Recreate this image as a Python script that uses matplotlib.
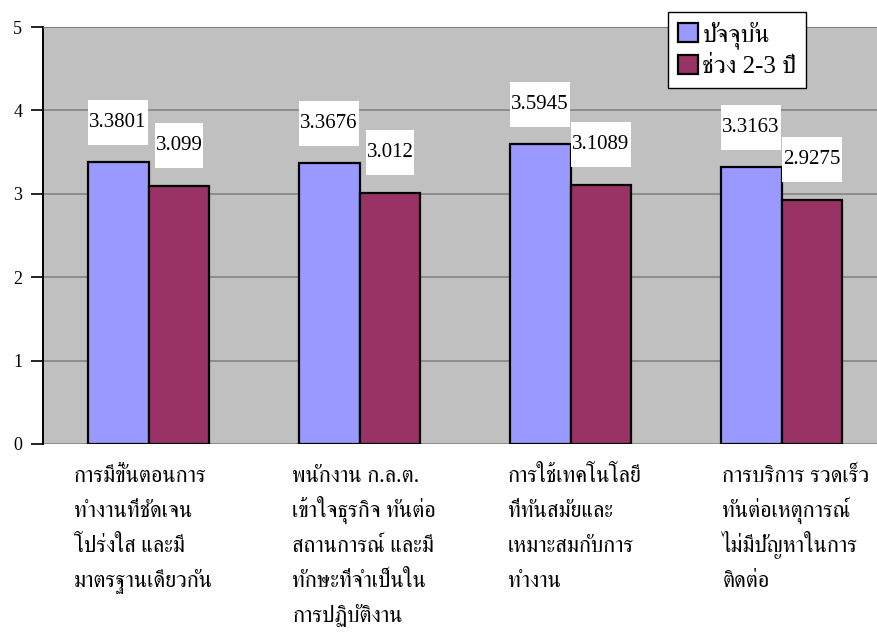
import matplotlib
matplotlib.use("Agg")
import matplotlib.pyplot as plt
import numpy as np
from matplotlib import font_manager
from matplotlib.ft2font import FT2Font
from matplotlib.patches import Patch, Rectangle
from matplotlib.transforms import IdentityTransform

categories = [
    "การมีขั้นตอนการ\nทำงานที่ชัดเจน\nโปร่งใส และมี\nมาตรฐานเดียวกัน",
    "พนักงาน ก.ล.ต.\nเข้าใจธุรกิจ ทันต่อ\nสถานการณ์ และมี\nทักษะที่จำเป็นใน\nการปฏิบัติงาน",
    "การใช้เทคโนโลยี\nที่ทันสมัยและ\nเหมาะสมกับการ\nทำงาน",
    "การบริการ รวดเร็ว\nทันต่อเหตุการณ์\nไม่มีปัญหาในการ\nติดต่อ",
]
current = [3.3801, 3.3676, 3.5945, 3.3163]
next_years = [3.099, 3.012, 3.1089, 2.9275]
current_labels = ["3.3801", "3.3676", "3.5945", "3.3163"]
next_labels = ["3.099", "3.012", "3.1089", "2.9275"]
series_names = ["ปัจจุบัน", "ช่วง 2-3 ปี"]


def thai_fonts():
    found = []
    for f in font_manager.fontManager.ttflist:
        try:
            ft = FT2Font(f.fname)
            if ft.get_char_index(0x0E01) and ft.get_char_index(0x0E33):
                if f.name not in found:
                    found.append(f.name)
        except Exception:
            pass
    return found


found = thai_fonts()
prefer = ["FreeSerif", "Norasi", "Kinnari", "Noto Serif Thai", "Loma"]
thai = next((p for p in prefer if p in found), found[0] if found else "DejaVu Sans")
plt.rcParams["font.family"] = ["Liberation Serif", thai, "DejaVu Sans"]

W, H = 877, 642
fig = plt.figure(figsize=(W / 100, H / 100), dpi=100)
ax = fig.add_axes([43 / W, (H - 444) / H, 844 / W, 417 / H])

blue, red = "#9999FF", "#993366"
x = np.arange(len(categories))
bw = 0.289
ax.bar(x - bw / 2, current, bw, color=blue, edgecolor="black", linewidth=1.6, zorder=3)
ax.bar(x + bw / 2, next_years, bw, color=red, edgecolor="black", linewidth=1.6, zorder=3)

ax.set_xlim(-0.5, 3.5)
ax.set_ylim(0, 5)
ax.set_facecolor("#C0C0C0")
ax.set_yticks(range(6))
ax.tick_params(axis="y", length=9, width=1.2, pad=6, labelsize=13)
ax.set_xticks([])
ax.grid(axis="y", color="#808080", linewidth=1.1, zorder=0)
ax.set_axisbelow(True)
for s in ["right", "bottom"]:
    ax.spines[s].set_visible(False)
ax.spines["top"].set_color("#808080")
ax.spines["left"].set_linewidth(1.4)

texts = []
for xs, vals, labs in [(x - bw / 2, current, current_labels), (x + bw / 2, next_years, next_labels)]:
    for xi, v, lab in zip(xs, vals, labs):
        t = ax.annotate(lab, (xi, v), xytext=(0, 28.8), textcoords="offset points",
                        ha="center", va="center", fontsize=15, zorder=6)
        texts.append(t)

# category labels: one text per line so the line pitch stays even
label_shift = [-0.353, -0.318, -0.296, -0.28]
for i, lab in enumerate(categories):
    for j, line in enumerate(lab.split("\n")):
        ax.annotate(line, (i + label_shift[i], 0), xytext=(0, -27.5 - 25.2 * j),
                    textcoords="offset points", ha="left", va="baseline",
                    fontsize=16, annotation_clip=False)

fig.legend(handles=[Patch(facecolor=blue, edgecolor="black", linewidth=1.6, label=series_names[0]),
                    Patch(facecolor=red, edgecolor="black", linewidth=1.6, label=series_names[1])],
           loc="upper left", bbox_to_anchor=(668 / W, 1 - 12 / H), fancybox=False,
           edgecolor="black", framealpha=1, fontsize=18, handlelength=0.8, handleheight=0.8,
           handletextpad=0.2, labelspacing=0.22, borderpad=0.38, borderaxespad=0)

fig.canvas.draw()
r = fig.canvas.get_renderer()
for t in texts:
    bb = t.get_window_extent(r)
    cx, cy = (bb.x0 + bb.x1) / 2, (bb.y0 + bb.y1) / 2
    w = bb.width + 2
    ax.add_patch(Rectangle((cx - w / 2, cy - 22.5), w, 45, transform=IdentityTransform(),
                           facecolor="white", edgecolor="none", zorder=5))

fig.savefig("out.png", dpi=100)
